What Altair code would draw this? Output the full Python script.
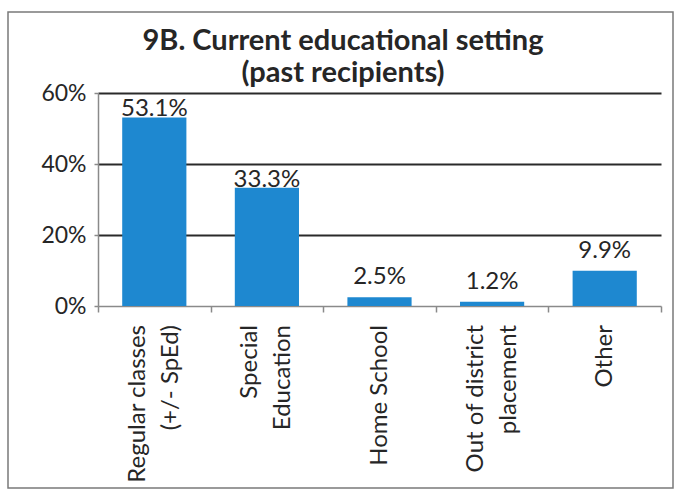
import altair as alt
import pandas as pd

# ---- data ----
categories = [
    "Regular classes\n(+/- SpEd)",
    "Special\nEducation",
    "Home School",
    "Out of district\nplacement",
    "Other",
]
percent = [53.1, 33.3, 2.5, 1.2, 9.9]
y_ticks = [0, 0.2, 0.4, 0.6]
title_lines = ["9B. Current educational setting", "(past recipients)"]

df = pd.DataFrame({"cat": categories, "val": [p / 100 for p in percent]})

FONT = "Lato"
W, H = 563, 213
PAD_L, PAD_T = 98, 93
TEXT = "#262626"
BAR = "#1E88D0"

x = alt.X(
    "cat:N",
    sort=categories,
    title=None,
    scale=alt.Scale(paddingInner=0, paddingOuter=0),
    axis=alt.Axis(
        labels=False,
        tickBand="extent",
        tickSize=6,
        tickWidth=1.5,
        tickColor="#8a8a8a",
        domainColor="#8a8a8a",
        domainWidth=1.5,
        grid=False,
    ),
)
y = alt.Y(
    "val:Q",
    title=None,
    scale=alt.Scale(domain=[0, 0.6], nice=False),
    axis=alt.Axis(
        values=y_ticks,
        format=".0%",
        labelFont=FONT,
        labelFontSize=23,
        labelColor=TEXT,
        labelPadding=8,
        tickSize=4,
        tickWidth=1.5,
        tickColor="#8a8a8a",
        domainColor="#8a8a8a",
        domainWidth=1.5,
        grid=True,
        gridColor=alt.condition("datum.value == 0", alt.value("transparent"), alt.value("#2a2a2a")),
        gridWidth=2,
    ),
)

base = alt.Chart(df)
bars = base.mark_bar(color=BAR, width=alt.RelativeBandSize(0.57)).encode(x=x, y=y)

val_enc = dict(x=alt.X("cat:N", sort=categories), y="val:Q",
               text=alt.Text("val:Q", format=".1%"))
val_style = dict(font=FONT, fontSize=24, color=TEXT, baseline="alphabetic")
labels_big = base.transform_filter("datum.val >= 0.2").mark_text(dy=-1, **val_style).encode(**val_enc)
labels_small = base.transform_filter("datum.val < 0.2").mark_text(dy=-13, **val_style).encode(**val_enc)

# category labels (rotated, multi-line centred on the band)
cat_text = dict(font=FONT, fontSize=24, color=TEXT, angle=270, align="right",
                baseline="middle", lineHeight=33)
cat_enc = dict(x=alt.X("cat:N", sort=categories), y=alt.value(H + 19), text="lines:N")
one_line = base.transform_filter("indexof(datum.cat, '\\n') < 0").transform_calculate(
    lines="split(datum.cat, '\\n')"
).mark_text(**cat_text).encode(**cat_enc)
two_line = base.transform_filter("indexof(datum.cat, '\\n') >= 0").transform_calculate(
    lines="split(datum.cat, '\\n')"
).mark_text(dy=-16.5, **cat_text).encode(**cat_enc)

frame_df = pd.DataFrame({"k": [0]})
border = alt.Chart(frame_df).mark_rect(
    fill=None, stroke="#7a7a7a", strokeWidth=1.5
).encode(
    x=alt.value(-90), x2=alt.value(575), y=alt.value(-81), y2=alt.value(395)
)
title = alt.Chart(frame_df).mark_text(
    font=FONT, fontSize=29, fontWeight="bold", color=TEXT,
    align="center", baseline="alphabetic", lineHeight=32,
).encode(x=alt.value(245), y=alt.value(-43), text=alt.value(title_lines))

chart = alt.layer(bars, labels_big, labels_small, one_line, two_line, border, title).properties(
    width=W,
    height=H,
    autosize=alt.AutoSizeParams(type="none"),
    padding={"left": PAD_L, "top": PAD_T, "right": 676 - PAD_L - W, "bottom": 491 - PAD_T - H},
    background="white",
).configure_view(stroke=None)

chart.save("out.html", embed_options={"renderer": "svg", "actions": False})
